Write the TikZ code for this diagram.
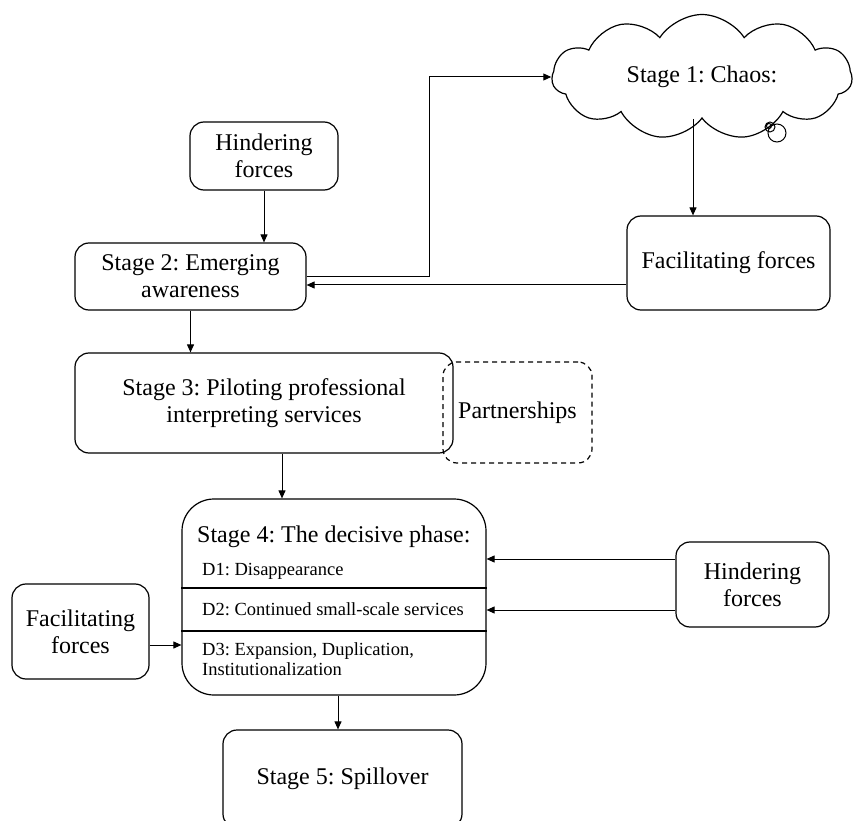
\documentclass[tikz,border=0pt]{standalone}
\usepackage{fontspec}
\setmainfont{Liberation Serif}
\usetikzlibrary{shapes.symbols,arrows.meta}

\tikzset{
  bigtext/.style={font=\fontsize{24}{27}\selectfont},
  smalltext/.style={font=\fontsize{18.5}{20}\selectfont,inner sep=0pt,anchor=base west}
}

\frenchspacing

\begin{document}
\begin{tikzpicture}[x=1pt,y=-1pt,>={Triangle[length=8pt,width=7pt]}]

      \useasboundingbox (0,0) rectangle (855,821);

      \node[cloud,draw,line width=1.2pt,cloud puffs=11,cloud puff arc=115,aspect=2.6,
            minimum width=300pt,minimum height=125pt,bigtext] (chaos) at (702,77) {Stage 1: Chaos:};
      \draw[line width=1pt] (777,133) circle (9pt) (770,127) circle (5pt) (769,126) circle (2.5pt);

      \begin{scope}[every node/.style={draw,rounded corners=14pt,line width=1.2pt,align=center,bigtext}]
        \node[minimum width=148pt,minimum height=68pt]  (hindtop)   at (264,156)   {Hindering\\forces};
        \node[minimum width=231pt,minimum height=67pt]  (stagetwo)  at (190.5,276.5) {Stage 2: Emerging\\awareness};
        \node[minimum width=203pt,minimum height=94pt]  (facilright) at (728.5,263) {Facilitating forces};
        \node[minimum width=378pt,minimum height=100pt] (stagethree) at (264,403)  {Stage 3: Piloting professional\\interpreting services};
        \node[minimum width=149pt,minimum height=101pt,dashed,dash pattern=on 5pt off 4pt] (partner) at (517.5,412.5) {Partnerships};
        \node[minimum width=304pt,minimum height=196pt,rounded corners=32pt] (stagefour) at (334,597) {};
        \node[minimum width=153pt,minimum height=85pt]  (hindright) at (752.5,584.5) {Hindering\\forces};
        \node[minimum width=137pt,minimum height=95pt]  (facilleft) at (80.5,631.5) {Facilitating\\forces};
        \node[minimum width=239pt,minimum height=98pt]  (stagefive) at (342.5,779) {Stage 5: Spillover};
      \end{scope}

      \node[bigtext,inner sep=0pt,anchor=base west] (fourtitle) at (197,542) {Stage 4: The decisive phase:};
      \node[smalltext] (done)   at (202,575) {D1: Disappearance};
      \node[smalltext] (dtwo)   at (202,615) {D2: Continued small-scale services};
      \node[smalltext,align=left] (dthree) at (202,675) {D3: Expansion, Duplication,\\Institutionalization};
      \draw[line width=1.2pt] (stagefour.west |- 0,588) -- (stagefour.east |- 0,588);
      \draw[line width=1.2pt] (stagefour.west |- 0,631) -- (stagefour.east |- 0,631);

      \begin{scope}[every edge/.style={draw,line width=1pt,->}]
        \path (hindtop.south) edge (hindtop.south |- stagetwo.north);
        \path ([xshift=-9pt]chaos.south) edge ([xshift=-9pt]chaos.south |- facilright.north);
        \path ([yshift=-22pt]facilright.west) edge ([yshift=-22pt]facilright.west -| stagetwo.east);
        \path (stagetwo.south) edge (stagetwo.south |- stagethree.north);
        \path ([xshift=18pt]stagethree.south) edge ([xshift=18pt]stagethree.south |- stagefour.north);
        \path ([yshift=25.5pt]hindright.west) edge ([yshift=25.5pt]hindright.west -| stagefour.east);
        \path ([yshift=-25.5pt]hindright.west) edge ([yshift=-25.5pt]hindright.west -| stagefour.east);
        \path ([yshift=-13.5pt]facilleft.east) edge ([yshift=-13.5pt]facilleft.east -| stagefour.west);
        \path ([xshift=4pt]stagefour.south) edge ([xshift=4pt]stagefour.south |- stagefive.north);
      \end{scope}
      \draw[line width=1pt,->] (stagetwo.east) -- ++(123,0) |- (chaos.west);

    \end{tikzpicture}
\end{document}
